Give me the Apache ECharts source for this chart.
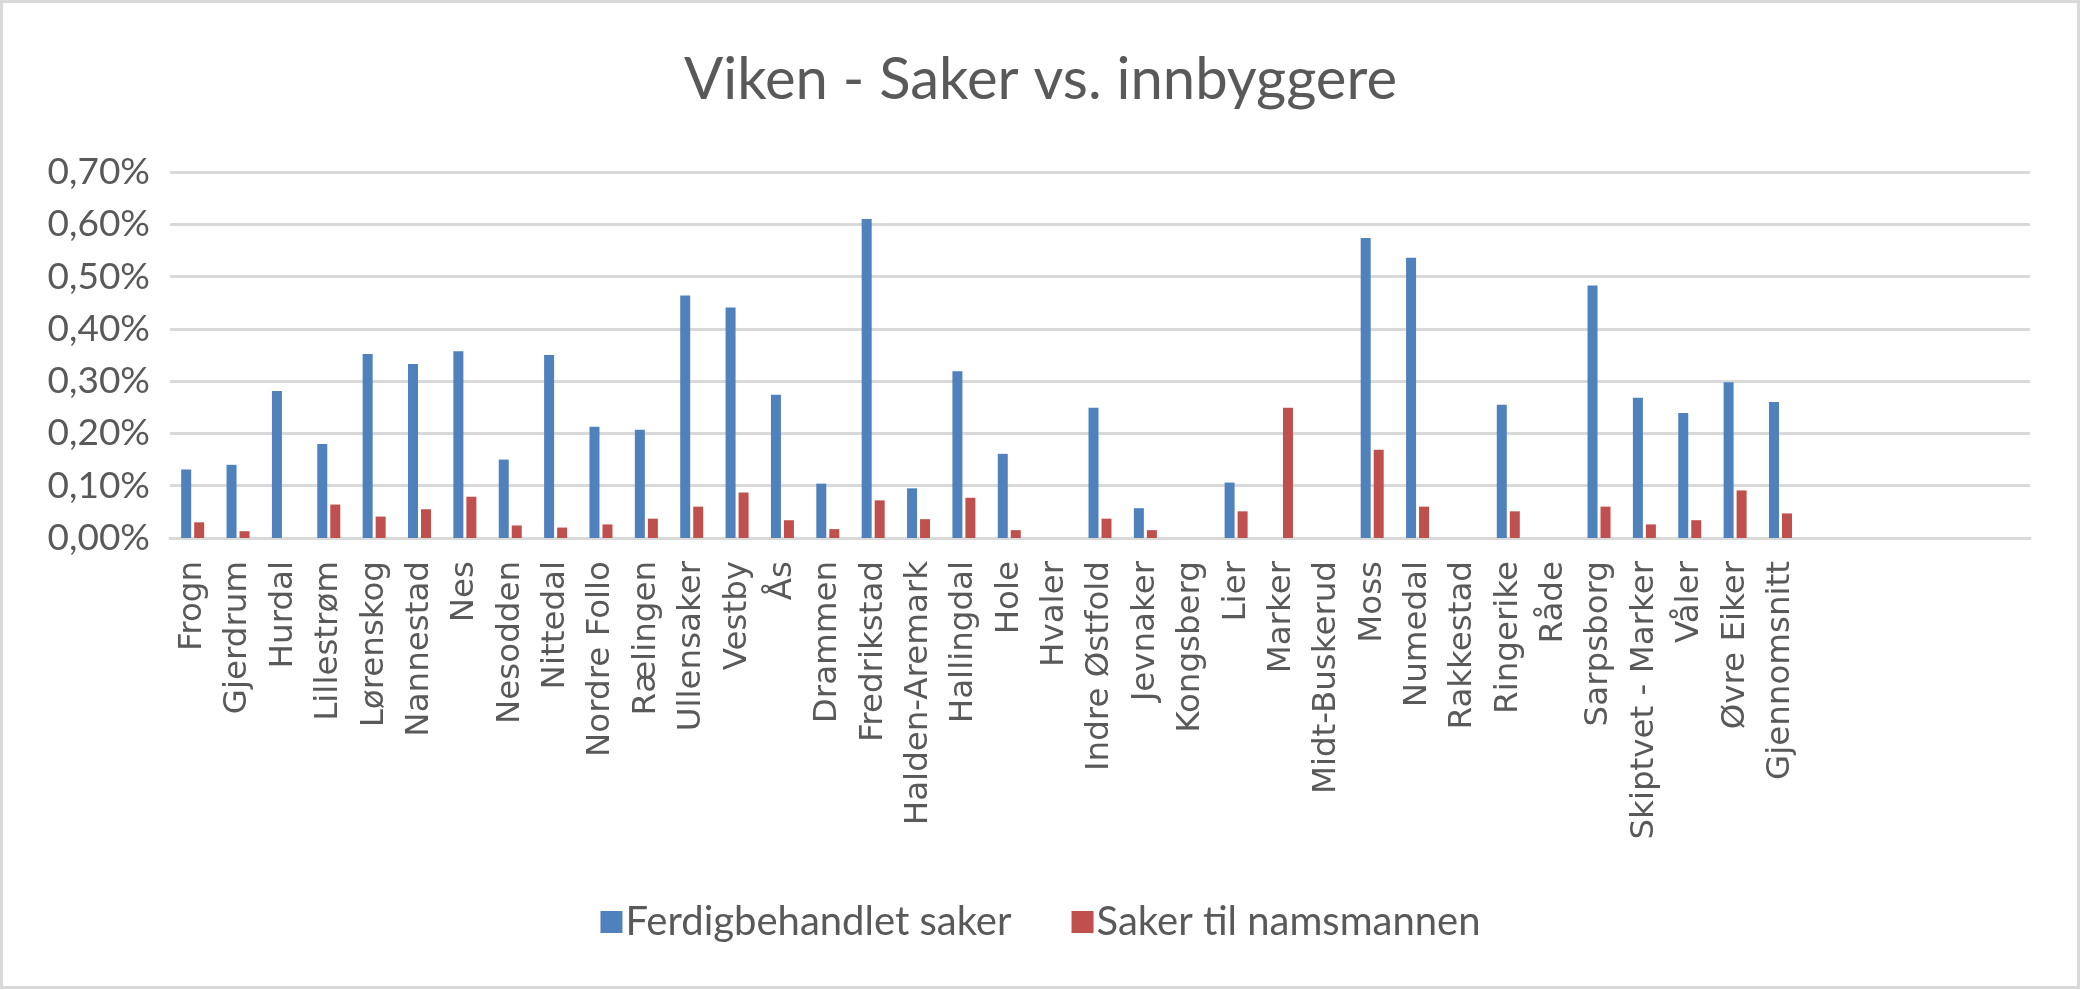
<!DOCTYPE html>
<html>
<head>
<meta charset="utf-8">
<script src="https://cdn.jsdelivr.net/npm/echarts@6/dist/echarts.min.js"></script>
<style>
html,body{margin:0;padding:0;background:#fff;}
#chart{width:2081px;height:990px;}
</style>
</head>
<body>
<div id="chart"></div>
<script>
const categories = ["Frogn","Gjerdrum","Hurdal","Lillestrøm","Lørenskog","Nannestad","Nes","Nesodden","Nittedal","Nordre Follo","Rælingen","Ullensaker","Vestby","Ås","Drammen","Fredrikstad","Halden-Aremark","Hallingdal","Hole","Hvaler","Indre Østfold","Jevnaker","Kongsberg","Lier","Marker","Midt-Buskerud","Moss","Numedal","Rakkestad","Ringerike","Råde","Sarpsborg","Skiptvet - Marker","Våler","Øvre Eiker","Gjennomsnitt"];
const emptySlots = ["","","","",""];
const ferdigbehandlet = [0.131,0.140,0.281,0.180,0.352,0.333,0.357,0.150,0.350,0.213,0.207,0.464,0.441,0.274,0.104,0.610,0.095,0.319,0.161,0,0.249,0.057,0,0.106,0,0,0.574,0.536,0,0.255,0,0.483,0.268,0.239,0.298,0.260];
const tilNamsmannen = [0.030,0.013,0,0.064,0.041,0.055,0.079,0.024,0.020,0.026,0.037,0.060,0.087,0.034,0.017,0.072,0.036,0.077,0.015,0,0.037,0.015,0,0.051,0.249,0,0.169,0.060,0,0.051,0,0.060,0.026,0.034,0.091,0.047];
const seriesNames = ["Ferdigbehandlet saker","Saker til namsmannen"];
const yTicks = {min:0, max:0.7, interval:0.1};

const chart = echarts.init(document.getElementById('chart'));
const textColor = '#595959';
const gridColor = '#d9d9d9';
chart.setOption({
  animation:false,
  backgroundColor:'#ffffff',
  graphic:[{type:'rect',shape:{x:1.5,y:1.5,width:2077,height:986},style:{fill:'none',stroke:gridColor,lineWidth:3},silent:true}],
  title:{text:'Viken - Saker vs. innbyggere',left:'center',top:46,
    textStyle:{fontFamily:'Lato',fontSize:58,fontWeight:'normal',color:textColor}},
  legend:{data:seriesNames,left:'center',top:897,itemWidth:22,itemHeight:22,itemGap:60,
    icon:'rect',textStyle:{fontFamily:'Lato',fontSize:40,color:textColor,padding:[0,0,0,-2]}},
  grid:{left:170,right:51,top:172,bottom:452},
  xAxis:{type:'category',data:categories.concat(emptySlots),
    axisLine:{lineStyle:{color:gridColor,width:3}},axisTick:{show:false},
    axisLabel:{interval:0,rotate:90,margin:23,fontFamily:'DejaVu Sans',fontSize:32.5,color:textColor}},
  yAxis:{type:'value',min:yTicks.min,max:yTicks.max,interval:yTicks.interval,
    axisLine:{show:false},axisTick:{show:false},
    splitLine:{lineStyle:{color:gridColor,width:3}},
    axisLabel:{margin:20,fontFamily:'Lato',fontSize:37,color:textColor,
      formatter:v=>v.toFixed(2).replace('.',',')+'%'}},
  series:[
    {name:seriesNames[0],type:'bar',data:ferdigbehandlet,barWidth:10,barGap:'30%',itemStyle:{color:'#4f81bd'}},
    {name:seriesNames[1],type:'bar',data:tilNamsmannen,barWidth:10,itemStyle:{color:'#c0504d'}}
  ]
});
</script>
</body>
</html>
